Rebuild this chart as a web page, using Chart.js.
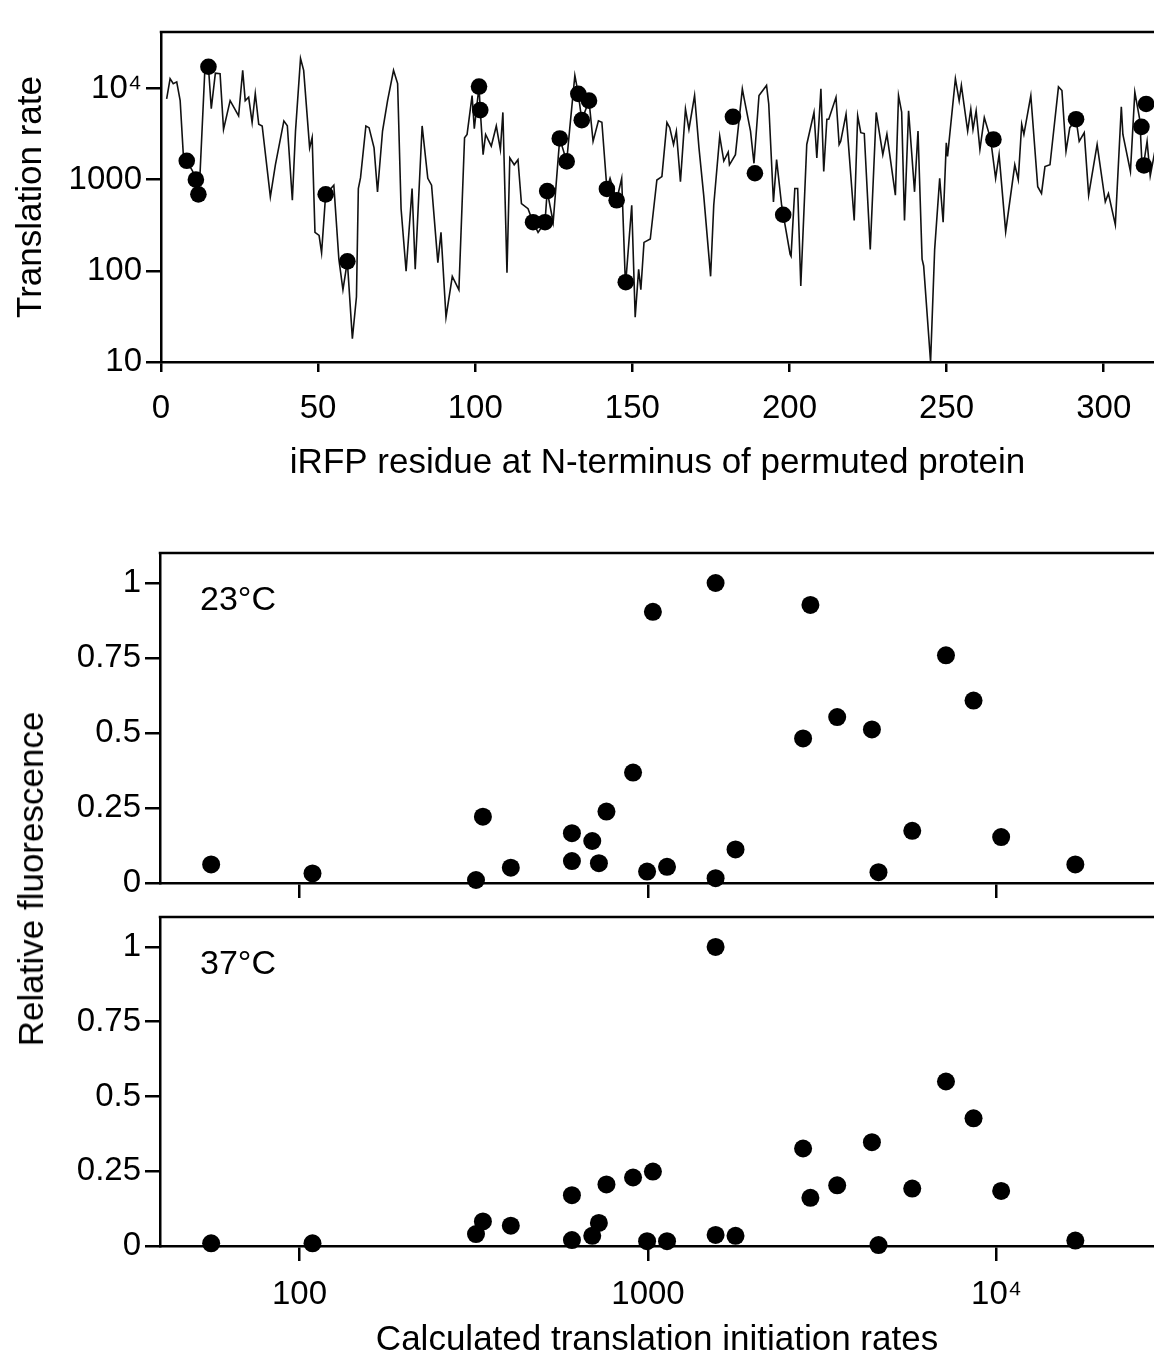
<!DOCTYPE html>
<html lang="en">
<head>
<meta charset="UTF-8">
<title>Translation rate and relative fluorescence</title>
<script src="https://cdn.jsdelivr.net/npm/chart.js"></script>
<style>
  html, body { margin: 0; padding: 0; background: #fff; overflow: hidden; }
  body { width: 1154px; height: 1359px; position: relative; font-family: 'Liberation Sans', Arial, sans-serif; }
  canvas { position: absolute; left: 0; }
  #rateChart { top: 0; }
  #fl23Chart { top: 540px; }
  #fl37Chart { top: 905px; }
  .ytitle {
    position: absolute; left: 31px; top: 879px;
    transform: translate(-50%, -50%) rotate(-90deg);
    font-size: 35px; line-height: 42px; white-space: nowrap; color: #000;
  }
</style>
</head>
<body>

<canvas id="rateChart" width="1154" height="490"></canvas>
<canvas id="fl23Chart" width="1154" height="370"></canvas>
<canvas id="fl37Chart" width="1154" height="456"></canvas>
<div class="ytitle">Relative fluorescence</div>

<script>
// top panel: calculated rate along the permutation sites
const lineResidue = [1.8, 2.9, 3.9, 5.0, 6.1, 7.1, 8.2, 10.0, 11.1, 11.9, 12.4, 14.0, 15.1, 16.0, 17.3, 18.8, 19.9, 22.0, 24.7, 26.0,
  26.8, 27.9, 29.0, 30.0, 31.1, 32.2, 34.8, 36.4, 39.1, 40.2, 41.8, 42.8, 44.4, 45.4, 47.3, 48.1, 49.0, 50.3, 51.1, 52.4,
  55.0, 56.6, 57.9, 59.3, 60.9, 62.2, 62.8, 63.5, 65.2, 66.2, 67.8, 68.9, 70.5, 72.1, 74.0, 75.3, 76.4, 78.0, 79.9, 80.9,
  83.1, 84.9, 86.1, 88.1, 89.1, 90.7, 92.7, 94.8, 96.6, 97.4, 99.0, 99.7, 101.2, 101.6, 102.5, 103.3, 105.1, 106.7, 108.0, 108.8,
  110.1, 111.0, 112.4, 113.6, 114.7, 116.8, 118.4, 120.0, 122.2, 122.9, 124.8, 126.4, 126.9, 129.1, 130.1, 131.7, 132.8, 133.9, 136.2, 137.5,
  139.2, 140.3, 141.9, 142.9, 145.0, 146.6, 147.7, 147.9, 149.8, 150.9, 152.0, 152.7, 153.7, 155.7, 157.8, 159.4, 161.0, 161.9, 163.1, 164.0,
  165.3, 166.9, 168.0, 169.8, 171.2, 172.7, 174.9, 175.9, 177.8, 179.1, 180.5, 180.9, 182.8, 185.0, 185.5, 187.6, 188.7, 190.3, 192.7, 193.4,
  194.9, 195.9, 197.5, 200.2, 200.5, 201.7, 202.6, 203.6, 205.5, 207.8, 208.7, 210.0, 210.9, 211.9, 212.5, 214.8, 215.8, 216.3, 218.0, 218.4,
  220.6, 221.7, 222.7, 223.8, 225.7, 227.6, 229.7, 231.0, 233.7, 234.7, 235.7, 236.6, 237.9, 239.8, 240.9, 242.2, 242.7, 244.9, 246.2, 247.8,
  248.9, 249.9, 250.3, 252.8, 254.0, 254.7, 256.7, 257.7, 258.4, 259.4, 260.6, 262.0, 264.0, 265.6, 266.7, 268.8, 271.7, 272.8, 273.9, 274.6,
  276.8, 279.0, 280.2, 281.3, 282.9, 285.6, 286.7, 288.0, 289.2, 291.2, 292.2, 293.8, 295.2, 297.9, 300.5, 301.5, 303.7, 305.6, 306.1, 308.5,
  309.9, 311.5, 312.3, 313.8, 314.8, 317.1];
const lineRate = [7700, 12800, 11300, 11800, 7350, 1880, 1610, 1250, 1000, 690, 1120, 17300, 17300, 6000, 14700, 14500, 3560, 7350, 5000, 15800,
  7350, 8000, 4230, 8800, 4050, 3880, 648, 1455, 4410, 3900, 594, 3400, 21400, 15800, 2230, 2900, 264, 245, 158, 690,
  870, 134, 62, 127, 18, 52, 800, 1050, 3880, 3715, 2230, 735, 3410, 7350, 15800, 11300, 480, 99, 800, 104,
  3880, 1035, 870, 123, 264, 31, 87, 62, 2880, 3130, 8360, 3630, 10500, 5790, 1880, 3130, 2330, 3880, 2140, 5460,
  95, 1730, 1455, 1655, 546, 480, 341, 264, 341, 750, 341, 1730, 2830, 1585, 3715, 13900, 8720, 4490, 7350, 2630,
  4410, 4260, 790, 1035, 594, 1035, 87, 75, 524, 31, 104, 62, 205, 223, 990, 1080, 4230, 3715, 2430, 3400,
  950, 5940, 3550, 8360, 2230, 676, 87, 524, 3000, 1600, 2000, 1455, 1880, 9900, 8000, 3410, 1510, 8360, 10800, 6760,
  570, 1655, 524, 152, 145, 800, 800, 68, 2430, 5460, 1730, 9900, 1230, 4600, 4600, 8000, 2430, 2630, 5240, 3560,
  356, 5000, 3270, 3200, 172, 5460, 1880, 3160, 676, 8360, 5500, 356, 5700, 735, 3410, 134, 113, 10, 172, 1035,
  341, 2530, 1800, 12800, 7300, 10800, 3410, 5940, 3560, 5700, 2140, 4800, 2800, 1035, 1880, 269, 1455, 1000, 4050, 3130,
  8360, 836, 705, 1390, 1455, 10400, 9500, 2050, 3715, 4600, 2630, 3270, 676, 2430, 570, 705, 319, 6310, 3130, 1230,
  9100, 4500, 1200, 2630, 1100, 2900];

// the constructs that were made (dots on the top panel)
const dotResidue = [8.2, 11.1, 11.9, 15.1, 52.4, 59.3, 101.2, 101.6, 118.4, 122.2, 122.9, 126.9, 129.1, 132.8,
  133.9, 136.2, 141.9, 145.0, 147.9, 182.0, 189.0, 198.0, 264.9, 291.2, 312.0, 312.8, 313.5];
const dotRate = [1610, 1000, 690, 17300, 690, 127, 10500, 5790, 341, 341, 750, 2830, 1585, 8720,
  4490, 7350, 790, 594, 75, 4890, 1175, 412, 2760, 4600, 3790, 1430, 6760];

// bottom panels: fluorescence vs calculated initiation rate
const initRate = [55.8, 109, 321, 336, 404, 605, 605, 692, 723, 760, 906, 994, 1033, 1134,
  1563, 1563, 1783, 2786, 2924, 3490, 4390, 4585, 5730, 7160, 8590, 10310, 16830];
const fluor23 = [0.062, 0.032, 0.010, 0.221, 0.051, 0.166, 0.073, 0.140, 0.066, 0.238, 0.368, 0.038, 0.904, 0.054,
  1.0, 0.016, 0.112, 0.482, 0.927, 0.553, 0.512, 0.036, 0.174, 0.759, 0.608, 0.153, 0.062];
const fluor37 = [0.009, 0.009, 0.040, 0.082, 0.068, 0.170, 0.020, 0.034, 0.077, 0.206, 0.229, 0.016, 0.249, 0.016,
  1.0, 0.037, 0.034, 0.326, 0.161, 0.203, 0.347, 0.003, 0.192, 0.550, 0.427, 0.184, 0.018];

const residueTicks = [0, 50, 100, 150, 200, 250, 300];
const rateTicks = [10, 100, 1000, 10000];
const initTicks = [100, 1000, 10000];
const fluorTicks = [0, 0.25, 0.5, 0.75, 1];

Chart.defaults.font.family = "'Liberation Sans', Arial, sans-serif";
Chart.defaults.color = '#000';

function fixedTicks(values) {
    return scale => { scale.ticks = values.map(v => ({ value: v })); };
}
function powLabel(v) {
    return v === 10000 ? '10\u2074' : String(v);
}
function axisStyle(tickLen) {
    return {
        border: { display: true, color: '#000', width: 2.5 },
        grid: { drawOnChartArea: false, drawTicks: true, tickLength: tickLen, color: '#000', lineWidth: 2.5 }
    };
}
// fixed y axis width, and no extra room asked for the end labels
function yFit(width) {
    return s => { s.width = width; s.paddingTop = 0; s.paddingBottom = 0; };
}

const topBorder = {
    id: 'topBorder',
    afterDraw(chart) {
        const { ctx, chartArea: a } = chart;
        ctx.save();
        ctx.strokeStyle = '#000';
        ctx.lineWidth = 2.5;
        ctx.beginPath();
        ctx.moveTo(a.left - 1.25, a.top);
        ctx.lineTo(a.right, a.top);
        ctx.stroke();
        ctx.restore();
    }
};

const panelLabel = {
    id: 'panelLabel',
    afterDraw(chart, args, opts) {
        if (!opts.text) return;
        const { ctx, chartArea: a } = chart;
        ctx.save();
        ctx.fillStyle = '#000';
        ctx.font = "34px 'Liberation Sans', Arial, sans-serif";
        ctx.textAlign = 'left';
        ctx.textBaseline = 'middle';
        ctx.fillText(opts.text, a.left + 40, a.top + 48);
        ctx.restore();
    }
};

// top: translation rate along the sequence
new Chart(document.getElementById('rateChart'), {
    type: 'scatter',
    data: {
        datasets: [{
            data: dotResidue.map((x, i) => ({ x: x, y: dotRate[i] })),
            pointRadius: 8.3,
            backgroundColor: '#000',
            borderWidth: 0,
            clip: false
        }, {
            data: lineResidue.map((x, i) => ({ x: x, y: lineRate[i] })),
            showLine: true,
            pointRadius: 0,
            borderColor: '#111',
            borderWidth: 1.6,
            tension: 0
        }]
    },
    options: {
        responsive: false,
        animation: false,
        events: [],
        layout: { autoPadding: false, padding: { top: 32, left: 0, right: 0, bottom: 0 } },
        plugins: { legend: { display: false }, tooltip: { enabled: false } },
        scales: {
            x: {
                type: 'linear', min: 0, max: 316,
                afterBuildTicks: fixedTicks(residueTicks),
                afterFit: s => { s.height = 128; },
                ticks: { font: { size: 33 }, padding: 17, maxRotation: 0 },
                title: { display: true, text: 'iRFP residue at N-terminus of permuted protein',
                         font: { size: 35 }, padding: { top: 0, bottom: 6 } },
                ...axisStyle(10)
            },
            y: {
                type: 'logarithmic', min: 10, max: 41600,
                afterBuildTicks: fixedTicks(rateTicks),
                afterFit: yFit(161),
                ticks: { font: { size: 33 }, padding: 4, callback: v => powLabel(v) },
                title: { display: true, text: 'Translation rate', font: { size: 35 }, padding: { top: 10, bottom: 0 } },
                ...axisStyle(15)
            }
        }
    },
    plugins: [topBorder]
});

function fluorChart(id, values, label, showX, xHeight, padTop) {
    const xTitle = { display: showX, text: 'Calculated translation initiation rates',
                     font: { size: 35 }, padding: { top: 0, bottom: 0 } };
    return new Chart(document.getElementById(id), {
        type: 'scatter',
        data: {
            datasets: [{
                data: initRate.map((x, i) => ({ x: x, y: values[i] })),
                pointRadius: 9,
                backgroundColor: '#000',
                borderWidth: 0,
                clip: false
            }]
        },
        options: {
            responsive: false,
            animation: false,
            events: [],
            layout: { autoPadding: false, padding: { top: padTop, left: 0, right: 0, bottom: 0 } },
            plugins: { legend: { display: false }, tooltip: { enabled: false }, panelLabel: { text: label } },
            scales: {
                x: {
                    type: 'logarithmic', min: 39.8, max: 28300,
                    afterBuildTicks: fixedTicks(initTicks),
                    afterFit: s => { s.height = xHeight; },
                    ticks: { display: showX, font: { size: 33 }, padding: 14, maxRotation: 0, callback: v => powLabel(v) },
                    title: xTitle,
                    ...axisStyle(15)
                },
                y: {
                    type: 'linear', min: 0, max: 1.1,
                    afterBuildTicks: fixedTicks(fluorTicks),
                    afterFit: yFit(160),
                    ticks: { font: { size: 33 }, padding: 4, callback: v => String(v) },
                    ...axisStyle(15)
                }
            }
        },
        plugins: [topBorder, panelLabel]
    });
}

fluorChart('fl23Chart', fluor23, '23°C', false, 27, 13);
fluorChart('fl37Chart', fluor37, '37°C', true, 115, 12);
</script>

</body>
</html>
